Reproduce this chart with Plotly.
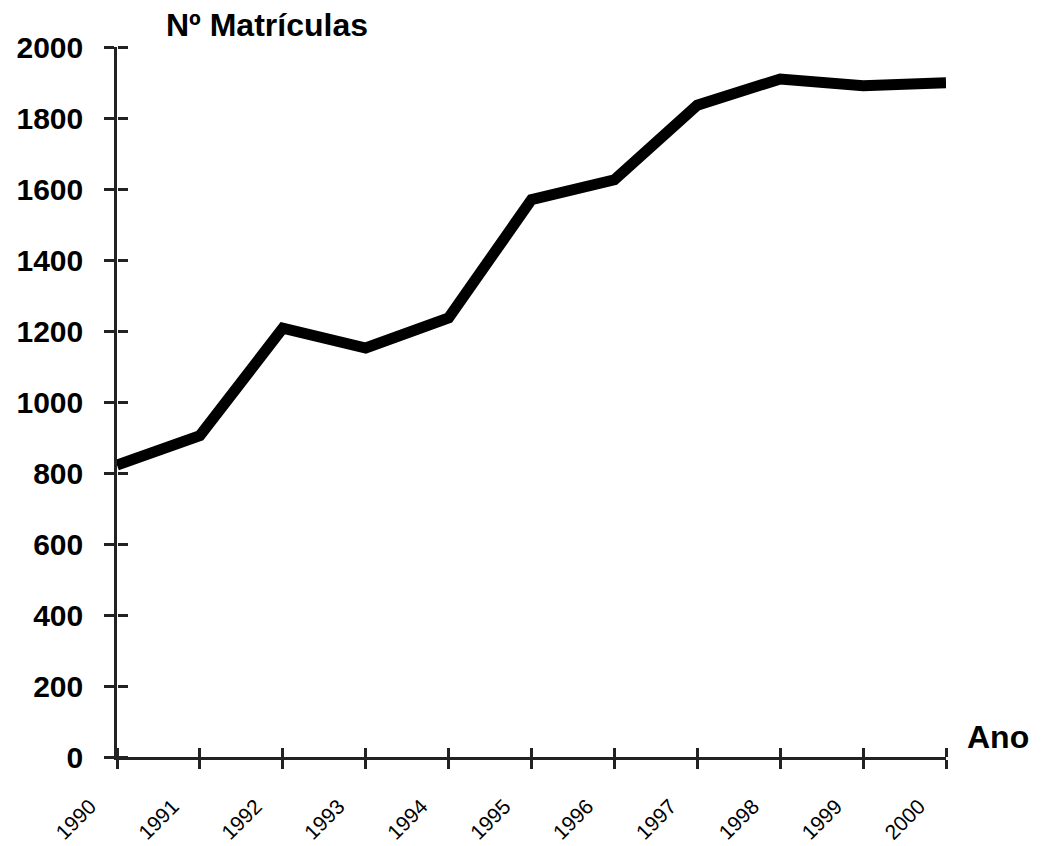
import plotly.graph_objects as go

anos = [1990, 1991, 1992, 1993, 1994, 1995, 1996, 1997, 1998, 1999, 2000]
matriculas = [822, 905, 1208, 1152, 1237, 1570, 1626, 1836, 1910, 1891, 1899]
y_ticks = list(range(0, 2001, 200))
x_ticks = anos

fig = go.Figure()
fig.add_trace(go.Scatter(
    x=anos, y=matriculas, mode="lines",
    line=dict(color="black", width=11),
    cliponaxis=False, hoverinfo="skip", showlegend=False,
))
# invisible trace on overlay axes (ticks on the inner side of the axis lines)
fig.add_trace(go.Scatter(
    x=anos, y=matriculas, mode="lines", xaxis="x2", yaxis="y2",
    line=dict(color="rgba(0,0,0,0)", width=0), hoverinfo="skip", showlegend=False,
))

axis_col = "#222222"
fig.update_layout(
    width=1034, height=838,
    margin=dict(l=109, r=96, t=39, b=89, autoexpand=False),
    paper_bgcolor="white", plot_bgcolor="white",
    font=dict(family="Liberation Sans, Arial, sans-serif", color="black"),
    xaxis=dict(
        range=[1990, 2000], tickmode="array", tickvals=x_ticks,
        ticktext=[str(v) for v in x_ticks], tickangle=-45,
        ticks="outside", ticklen=9, tickwidth=2.5, tickcolor=axis_col,
        showline=True, linecolor=axis_col, linewidth=2.5,
        showgrid=False, zeroline=False, automargin=False,
        tickfont=dict(size=21, color="black"),
        ticklabelshift=-27, ticklabelstandoff=17,
    ),
    yaxis=dict(
        range=[0, 2000], tickmode="array", tickvals=y_ticks,
        ticks="outside", ticklen=10, tickwidth=2.5, tickcolor=axis_col,
        showline=True, linecolor=axis_col, linewidth=2.5,
        showgrid=False, zeroline=False, automargin=False,
        tickfont=dict(size=30, color="black", weight="bold"),
        ticklabelstandoff=15,
    ),
    xaxis2=dict(
        range=[1990, 2000], overlaying="x", anchor="free", position=0, side="top",
        tickmode="array", tickvals=x_ticks, showticklabels=False,
        ticks="outside", ticklen=9, tickwidth=2.5, tickcolor=axis_col,
        showline=False, showgrid=False, zeroline=False, automargin=False,
    ),
    yaxis2=dict(
        range=[0, 2000], overlaying="y", anchor="free", position=0, side="right",
        tickmode="array", tickvals=y_ticks, showticklabels=False,
        ticks="outside", ticklen=10, tickwidth=2.5, tickcolor=axis_col,
        showline=False, showgrid=False, zeroline=False, automargin=False,
    ),
    annotations=[
        dict(text="Nº Matrículas", xref="paper", yref="paper",
             x=0.057, y=1.031, xanchor="left", yanchor="middle",
             showarrow=False, font=dict(size=32, weight="bold", color="black")),
        dict(text="Ano", xref="paper", yref="paper",
             x=1.023, y=0.028, xanchor="left", yanchor="middle",
             showarrow=False, font=dict(size=32, weight="bold", color="black")),
    ],
)

fig.write_html("out.html")
